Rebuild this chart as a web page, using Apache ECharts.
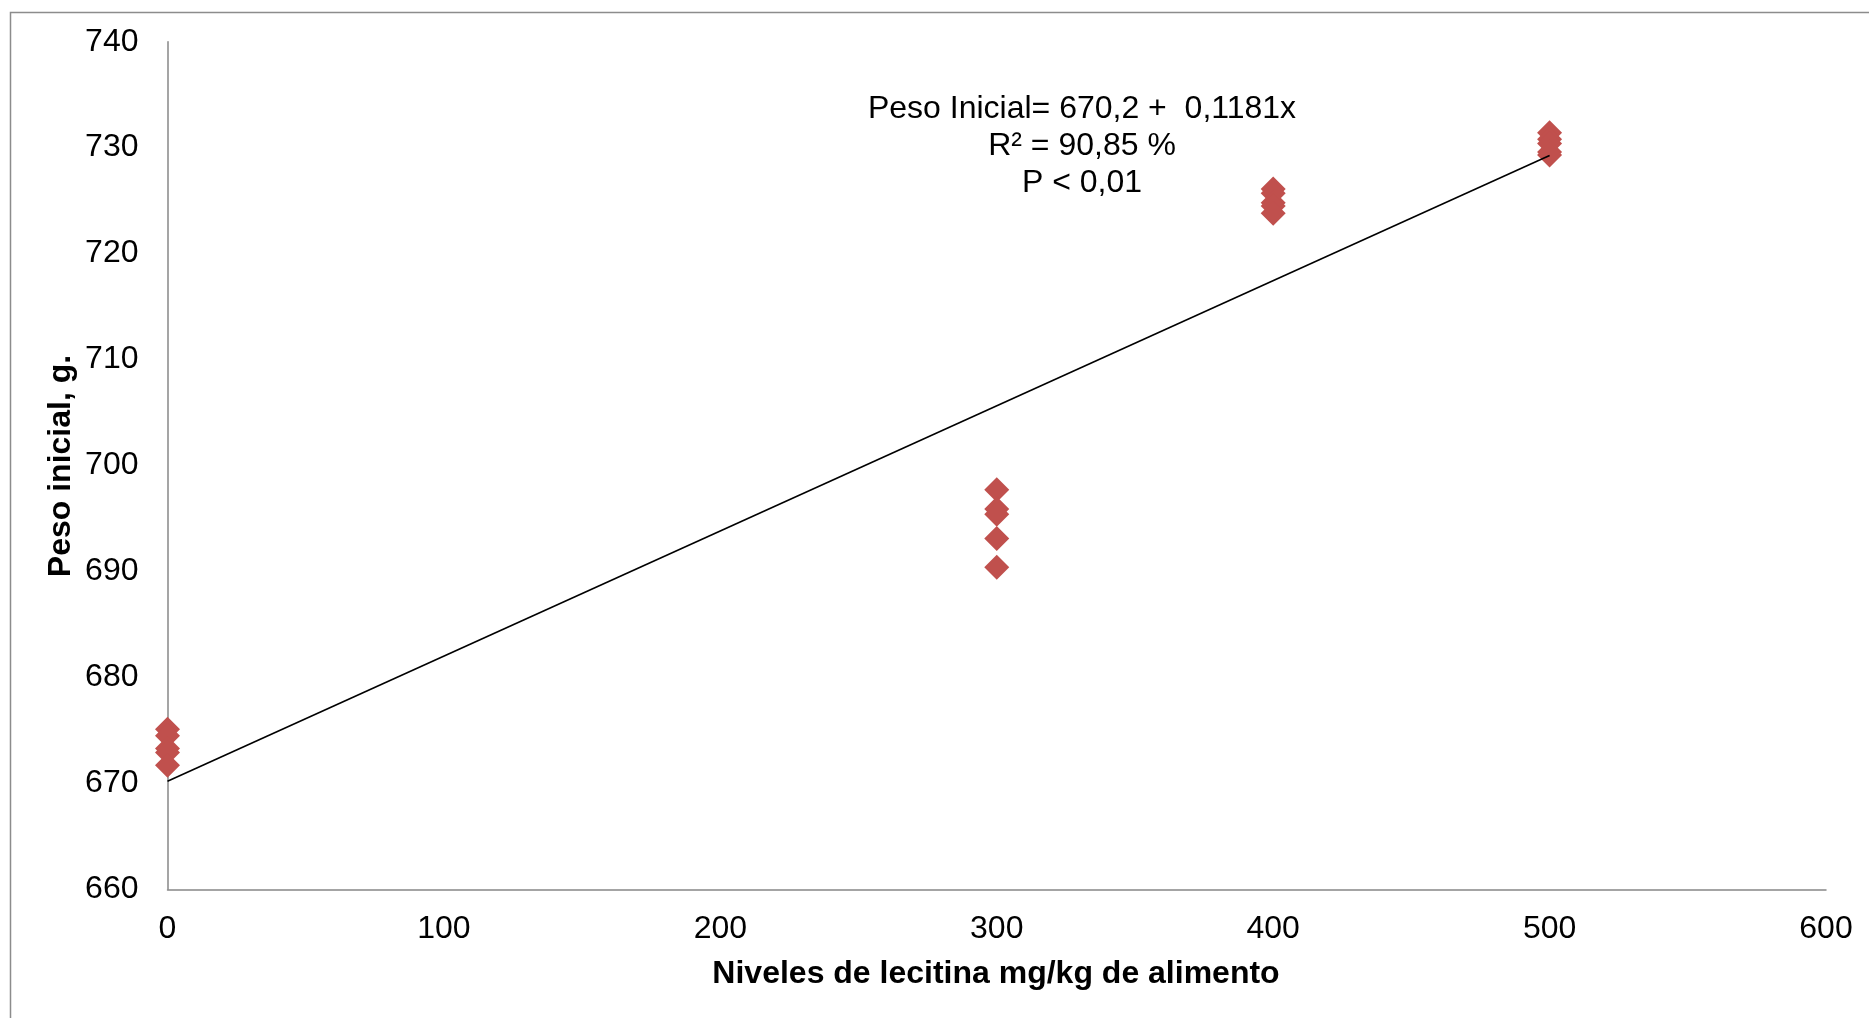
<!DOCTYPE html>
<html>
<head>
<meta charset="utf-8">
<script src="https://cdn.jsdelivr.net/npm/echarts@6/dist/echarts.min.js"></script>
<style>
html,body{margin:0;padding:0;background:#fff;}
#chart{width:1869px;height:1018px;}
</style>
</head>
<body>
<div id="chart"></div>
<script>
// Data
const levels0 = [0, 0, 0, 0, 0];
const values0 = [675.1, 674.5, 673.3, 672.9, 671.7];
const levels300 = [300, 300, 300, 300, 300];
const values300 = [697.7, 695.9, 695.4, 693.1, 690.4];
const levels400 = [400, 400, 400, 400, 400];
const values400 = [726.1, 725.7, 724.8, 724.5, 723.8];
const levels500 = [500, 500, 500, 500, 500];
const values500 = [731.4, 730.8, 730.4, 729.6, 729.3];

const trendIntercept = 670.2;
const trendSlope = 0.1181;
const trendX = [0, 500];

const xTicks = [0, 100, 200, 300, 400, 500, 600];
const yTicks = [660, 670, 680, 690, 700, 710, 720, 730, 740];

const annotation = ['Peso Inicial= 670,2 +  0,1181x', 'R² = 90,85 %', 'P < 0,01'];
const xTitle = 'Niveles de lecitina mg/kg de alimento';
const yTitle = 'Peso inicial, g.';

const points = [];
[[levels0, values0], [levels300, values300], [levels400, values400], [levels500, values500]].forEach(([xs, ys]) => {
  xs.forEach((x, i) => points.push([x, ys[i]]));
});
const trendData = trendX.map(x => [x, trendIntercept + trendSlope * x]);

const FONT = '"Liberation Sans", Arial, sans-serif';
const chart = echarts.init(document.getElementById('chart'));
chart.setOption({
  backgroundColor: '#ffffff',
  animation: false,
  grid: { left: 167.5, right: 43, top: 41.7, bottom: 128.7, containLabel: false },
  xAxis: {
    type: 'value', min: xTicks[0], max: xTicks[xTicks.length - 1], interval: 100,
    axisLine: { show: true, onZero: false, lineStyle: { color: '#878787', width: 1.5 } },
    axisTick: { show: false },
    splitLine: { show: false },
    axisLabel: { color: '#000', fontSize: 32, fontFamily: FONT, margin: 24 }
  },
  yAxis: {
    type: 'value', min: yTicks[0], max: yTicks[yTicks.length - 1], interval: 10,
    axisLine: { show: true, onZero: false, lineStyle: { color: '#878787', width: 1.5 } },
    axisTick: { show: false },
    splitLine: { show: false },
    axisLabel: { color: '#000', fontSize: 32, fontFamily: FONT, margin: 29, padding: [3, 0, 0, 0] }
  },
  series: [
    {
      type: 'scatter', data: points, symbol: 'diamond', symbolSize: 25,
      itemStyle: { color: '#C0504D', opacity: 1 }, z: 2
    },
    {
      type: 'line', data: trendData, symbol: 'none',
      lineStyle: { color: '#000', width: 1.6 }, z: 3
    }
  ],
  graphic: [
    {
      type: 'rect', left: 8, top: 10, z: -10, silent: true,
      shape: { x: 0, y: 0, width: 2000, height: 2000 },
      style: { fill: 'none', stroke: '#8c8c8c', lineWidth: 1.5 }
    },
    {
      type: 'text', x: 1082, y: 146.5, z: 10,
      style: { text: annotation.join('\n'), font: '32px ' + FONT, fill: '#000',
        textAlign: 'center', textVerticalAlign: 'middle', lineHeight: 37 }
    },
    {
      type: 'text', x: 996, y: 974, z: 10,
      style: { text: xTitle, font: 'bold 32px ' + FONT, fill: '#000',
        textAlign: 'center', textVerticalAlign: 'middle' }
    },
    {
      type: 'text', x: 61, y: 466, rotation: Math.PI / 2, z: 10,
      style: { text: yTitle, font: 'bold 32px ' + FONT, fill: '#000',
        textAlign: 'center', textVerticalAlign: 'middle' }
    }
  ]
});
</script>
</body>
</html>
